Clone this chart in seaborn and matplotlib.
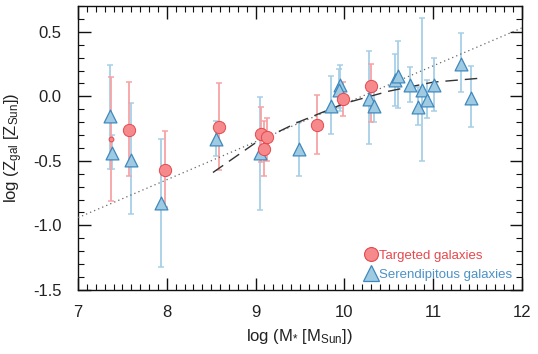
import numpy as np
import pandas as pd
import matplotlib
matplotlib.use("Agg")
import matplotlib.pyplot as plt
from matplotlib.ticker import MultipleLocator
from matplotlib.lines import Line2D
import seaborn as sns

# ---- data ----
red_x = [7.375, 7.58, 7.98, 8.59, 9.06, 9.13, 9.10, 9.69, 9.99, 10.30]
red_y = [-0.33, -0.26, -0.57, -0.235, -0.295, -0.315, -0.405, -0.22, -0.023, 0.08]
red_hi = [0.15, 0.11, -0.27, 0.10, -0.08, -0.17, -0.19, 0.013, 0.11, 0.25]
red_lo = [-0.81, -0.62, -0.86, -0.57, -0.51, -0.50, -0.62, -0.45, -0.15, -0.20]
red_small = [True, False, False, False, False, False, False, False, False, False]

blue_x = [7.36, 7.38, 7.60, 7.94, 8.55, 9.05, 9.49, 9.85, 9.95, 9.94, 10.28,
          10.33, 10.57, 10.61, 10.74, 10.88, 10.83, 10.93, 11.01, 11.32, 11.43]
blue_y = [-0.15, -0.44, -0.49, -0.83, -0.33, -0.44, -0.41, -0.075, 0.085, 0.05,
          -0.02, -0.075, 0.13, 0.16, 0.085, 0.047, -0.08, -0.03, 0.085, 0.25, -0.01]
blue_hi = [0.24, -0.30, -0.05, -0.33, -0.19, -0.005, -0.20, 0.16, 0.24, 0.21,
           0.35, 0.07, 0.33, 0.43, 0.23, 0.61, 0.07, 0.13, 0.30, 0.49, 0.235]
blue_lo = [-0.56, -0.56, -0.91, -1.32, -0.46, -0.88, -0.62, -0.29, -0.11, -0.09,
           -0.37, -0.20, -0.075, -0.09, -0.04, -0.50, -0.225, -0.17, -0.11, 0.03, -0.24]

dot_x = [7.0, 12.0]
dot_y = [-0.94, 0.53]

dash_x = [8.52, 9.0, 9.48, 10.0, 10.5, 11.0, 11.52]
dash_y = [-0.59, -0.36, -0.20, -0.055, 0.04, 0.11, 0.14]

labels = ["Targeted galaxies", "Serendipitous galaxies"]

# ---- style ----
RED_FACE = "#f6898b"
RED_EDGE = "#e5484d"
RED_ERR = "#f7a3a5"
BLUE_FACE = "#9ecae2"
BLUE_EDGE = "#3f88be"
BLUE_ERR = "#a7cfe6"
RED_TXT = "#e5484d"
BLUE_TXT = "#4b92c6"
INK = "#111111"

sns.set_style("ticks")
plt.rcParams["font.family"] = ["Liberation Sans", "DejaVu Sans"]
plt.rcParams["mathtext.fontset"] = "custom"
plt.rcParams["mathtext.rm"] = "Liberation Sans"
plt.rcParams["mathtext.it"] = "Liberation Sans"
plt.rcParams["mathtext.default"] = "regular"

fig = plt.figure(figsize=(5.38, 3.54), dpi=100)
ax = fig.add_axes([0.145, 0.181, 0.825, 0.802])

red = pd.DataFrame({"x": red_x, "y": red_y, "hi": red_hi, "lo": red_lo, "small": red_small})
blue = pd.DataFrame({"x": blue_x, "y": blue_y, "hi": blue_hi, "lo": blue_lo})

# error bars
ax.errorbar(blue["x"], blue["y"], yerr=[blue["y"] - blue["lo"], blue["hi"] - blue["y"]],
            fmt="none", ecolor=BLUE_ERR, elinewidth=1.3, capsize=2.0, capthick=1.1, zorder=2)
ax.errorbar(red["x"], red["y"], yerr=[red["y"] - red["lo"], red["hi"] - red["y"]],
            fmt="none", ecolor=RED_ERR, elinewidth=1.3, capsize=2.0, capthick=1.1, zorder=2)

# lines
sns.lineplot(x=dot_x, y=dot_y, ax=ax, color="#666666", linestyle=(0, (1, 2.5)),
             linewidth=0.9, zorder=3)
sns.lineplot(x=dash_x, y=dash_y, ax=ax, color="#333333", linestyle=(0, (9, 5)),
             linewidth=1.0, zorder=3)

# markers
sns.scatterplot(data=blue, x="x", y="y", ax=ax, marker="^", s=85, color=BLUE_FACE,
                edgecolor=BLUE_EDGE, linewidth=0.9, zorder=4, legend=False)
big = red[~red["small"]]
small = red[red["small"]]
sns.scatterplot(data=big, x="x", y="y", ax=ax, marker="o", s=78, color=RED_FACE,
                edgecolor=RED_EDGE, linewidth=0.7, zorder=5, legend=False)
sns.scatterplot(data=small, x="x", y="y", ax=ax, marker="o", s=12, color=RED_FACE,
                edgecolor=RED_EDGE, linewidth=0.7, zorder=5, legend=False)

# axes
ax.set_xlim(7, 12)
ax.set_ylim(-1.5, 0.7)
ax.xaxis.set_major_locator(MultipleLocator(1))
ax.xaxis.set_minor_locator(MultipleLocator(0.1))
ax.yaxis.set_minor_locator(MultipleLocator(0.1))
ax.set_yticks([0.5, 0.0, -0.5, -1.0, -1.5])
ax.set_yticklabels(["0.5", "0.0", "-0.5", "-1.0", "-1.5"])
ax.tick_params(which="both", direction="in", top=True, right=True, color=INK,
               labelsize=12, labelcolor="#222222")
ax.tick_params(which="major", length=9, width=1.0)
ax.tick_params(axis="x", which="major", pad=11)
ax.tick_params(axis="y", which="major", pad=12)
ax.tick_params(which="minor", length=4.5, width=0.8)
for sp in ax.spines.values():
    sp.set_linewidth(1.0)
    sp.set_color(INK)

ax.set_xlabel(r"log (M$_{*}$ [M$_{Sun}$])", fontsize=12, color="#222222", labelpad=5)
ax.set_ylabel(r"log (Z$_{gal}$ [Z$_{Sun}$])", fontsize=12, color="#222222", labelpad=6)

handles = [
    Line2D([], [], linestyle="none", marker="o", markersize=10, markerfacecolor=RED_FACE,
           markeredgecolor=RED_EDGE, markeredgewidth=0.8),
    Line2D([], [], linestyle="none", marker="^", markersize=11, markerfacecolor=BLUE_FACE,
           markeredgecolor=BLUE_EDGE, markeredgewidth=0.9),
]
ax.legend(handles, labels, loc="lower right", frameon=False, fontsize=9.5,
          labelcolor=[RED_TXT, BLUE_TXT], handletextpad=0.15, handlelength=1.0,
          labelspacing=0.5, borderaxespad=0.3, bbox_to_anchor=(1.0, 0.0))

fig.savefig("out.png", dpi=100)
